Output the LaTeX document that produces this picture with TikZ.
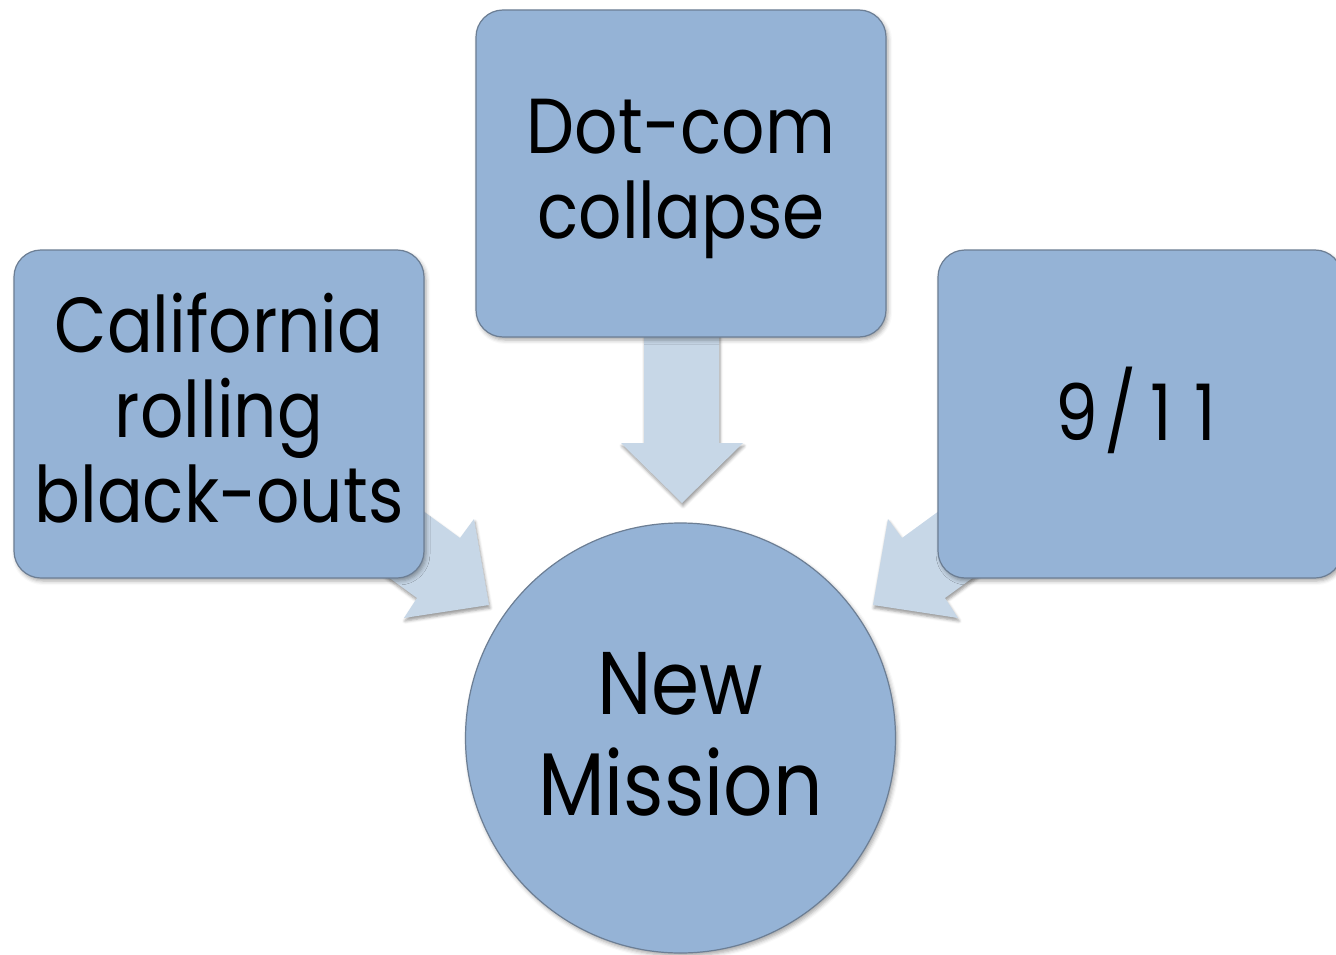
\documentclass[tikz,border=0pt]{standalone}
\usepackage{fontspec}
\setmainfont{Poppins}[FakeStretch=0.87]
\usetikzlibrary{shadows.blur}
\definecolor{boxfill}{RGB}{149,179,214}
\definecolor{boxline}{RGB}{108,126,148}
\definecolor{arrowfill}{RGB}{199,215,231}
\begin{document}
\begin{tikzpicture}[x=1pt,y=-1pt,
  card/.style={draw=boxline, line width=1.2pt, fill=boxfill, rectangle, rounded corners=27pt, inner sep=0pt,
    blur shadow={shadow xshift=2pt, shadow yshift=-3pt, shadow blur radius=4pt, shadow opacity=35}},
  disc/.style={draw=boxline, line width=1.2pt, fill=boxfill, circle, inner sep=0pt,
    blur shadow={shadow xshift=2pt, shadow yshift=-3pt, shadow blur radius=4pt, shadow opacity=35}},
  flow/.style={fill=arrowfill,
    blur shadow={shadow xshift=1pt, shadow yshift=-3pt, shadow blur radius=3pt, shadow opacity=40}},
  lbl/.style={align=center, text=black, inner sep=0pt, font=\fontsize{78}{85}\selectfont},
  biglbl/.style={align=center, text=black, inner sep=0pt, font=\fontsize{89}{101}\selectfont},
]
\useasboundingbox (0,0) rectangle (1336,955);
\clip (0,0) rectangle (1336,955);
% block arrows
\fill[flow] (644,320) -- (644,443) -- (621,443) -- (682,503) -- (743,443) -- (719,443) -- (719,320) -- cycle;
\fill[flow] (371.4,473.3) -- (460,538) -- (474,519) -- (489,605) -- (404,618) -- (417,598) -- (327.8,533.1) -- cycle;
\fill[flow] (990.6,473.3) -- (902,538) -- (888,519) -- (873,605) -- (958,618) -- (945,598) -- (1034.2,533.1) -- cycle;
% shapes
\node[card, minimum width=410pt, minimum height=328pt] (ca) at (219,414) {};
\node[card, minimum width=410pt, minimum height=327pt] (dc) at (681,173.5) {};
\node[card, minimum width=404pt, minimum height=328pt] (nine) at (1140,414) {};
\node[disc, minimum size=430pt] (nm) at (680.5,738) {};
% labels
\node[lbl] (tca) at ([yshift=6pt]ca.center) {California\\rolling\\black-outs};
\node[lbl] (tdc) at ([yshift=-5pt]dc.center) {Dot-com\\collapse};
\node[lbl] (tnine) at ([xshift=-4pt,yshift=4pt]nine.center) {9\kern6pt/\kern14pt1\kern22pt1};
\node[biglbl] (tnm) at ([yshift=4pt]nm.center) {New\\Mission};
\end{tikzpicture}
\end{document}
